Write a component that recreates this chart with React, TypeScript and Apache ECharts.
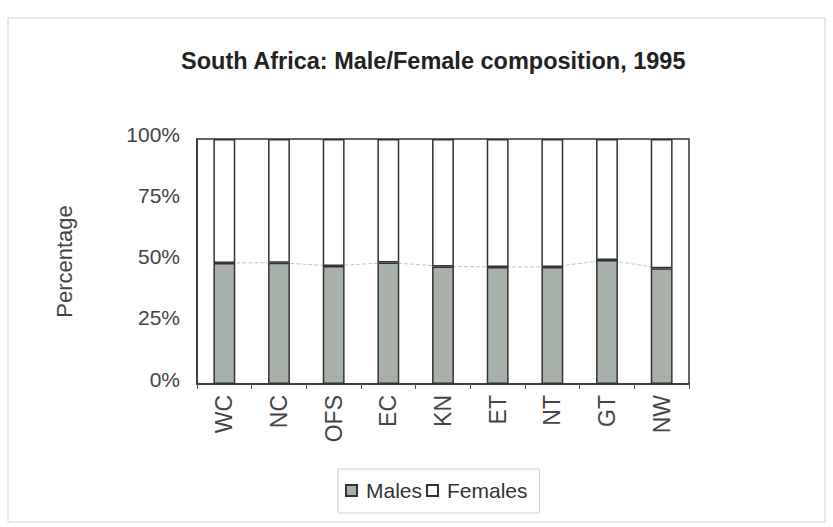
import React, { useEffect, useRef } from "react";
import * as echarts from "echarts";

const categories = ["WC", "NC", "OFS", "EC", "KN", "ET", "NT", "GT", "NW"];
const malesPct = [49.4, 49.5, 48.2, 49.6, 48.0, 47.8, 47.8, 50.6, 47.2];
const femalesPct = malesPct.map((m) => +(100 - m).toFixed(1));
const yTicks = [0, 25, 50, 75, 100];

export default function App() {
  const ref = useRef<HTMLDivElement>(null);
  useEffect(() => {
    if (!ref.current) return;
    const chart = echarts.init(ref.current, null, { renderer: "svg" });
    const font = "Liberation Sans, Arial, sans-serif";
    chart.setOption({
      animation: false,
      backgroundColor: "#ffffff",
      title: {
        text: "South Africa: Male/Female composition, 1995",
        left: 176,
        top: 44,
        textStyle: { fontFamily: font, fontWeight: "bold", fontSize: 23.5, color: "#222" },
      },
      graphic: [
        {
          type: "rect",
          shape: { x: 8, y: 18, width: 817, height: 504 },
          style: { fill: "none", stroke: "#d0d0d0", lineWidth: 1 },
          silent: true,
        },
      ],
      legend: {
        data: ["Males", "Females"],
        left: 338,
        top: 469,
        padding: [11, 12, 12, 7],
        itemGap: 4,
        itemWidth: 11,
        itemHeight: 11,
        icon: "rect",
        borderColor: "#cfcfcf",
        borderWidth: 1,
        textStyle: { fontFamily: font, fontSize: 21, color: "#333", padding: [0, 0, 0, 4] },
      },
      grid: {
        left: 197,
        right: 144,
        top: 139,
        bottom: 143,
        show: true,
        borderColor: "#333",
        borderWidth: 1.5,
        backgroundColor: "#fff",
      },
      xAxis: {
        type: "category",
        data: categories,
        axisLine: { show: true, lineStyle: { color: "#333", width: 1.5 } },
        axisTick: { show: true, length: 5, lineStyle: { color: "#555" } },
        axisLabel: {
          rotate: 90,
          fontFamily: font,
          fontSize: 23,
          color: "#444",
          margin: 11,
        },
      },
      yAxis: {
        type: "value",
        min: 0,
        max: 100,
        interval: 25,
        name: "Percentage",
        nameLocation: "middle",
        nameGap: 122,
        nameTextStyle: { fontFamily: font, fontSize: 22, color: "#444" },
        splitLine: { show: false },
        axisLine: { show: true, lineStyle: { color: "#333", width: 1.5 } },
        axisTick: { show: false },
        axisLabel: {
          fontFamily: font,
          fontSize: 21,
          color: "#444",
          margin: 17,
          verticalAlign: "bottom",
          lineHeight: 10,
          formatter: (v: number) => (yTicks.includes(v) ? v + "%" : ""),
        },
      },
      series: [
        {
          name: "Males",
          type: "bar",
          stack: "total",
          data: malesPct,
          barCategoryGap: "60%",
          itemStyle: { color: "#a8b0aa", borderColor: "#333", borderWidth: 1.5 },
          z: 3,
        },
        {
          name: "Females",
          type: "bar",
          stack: "total",
          data: femalesPct,
          itemStyle: { color: "#ffffff", borderColor: "#333", borderWidth: 1.5 },
          z: 3,
        },
        {
          name: "series lines",
          type: "line",
          data: malesPct,
          symbol: "none",
          lineStyle: { color: "#c4c4c4", width: 1, type: "dashed" },
          z: 1,
          silent: true,
        },
      ],
    });
    return () => chart.dispose();
  }, []);
  return (
    <div
      ref={ref}
      style={{ position: "fixed", left: 0, top: 0, width: 833, height: 527 }}
    />
  );
}
